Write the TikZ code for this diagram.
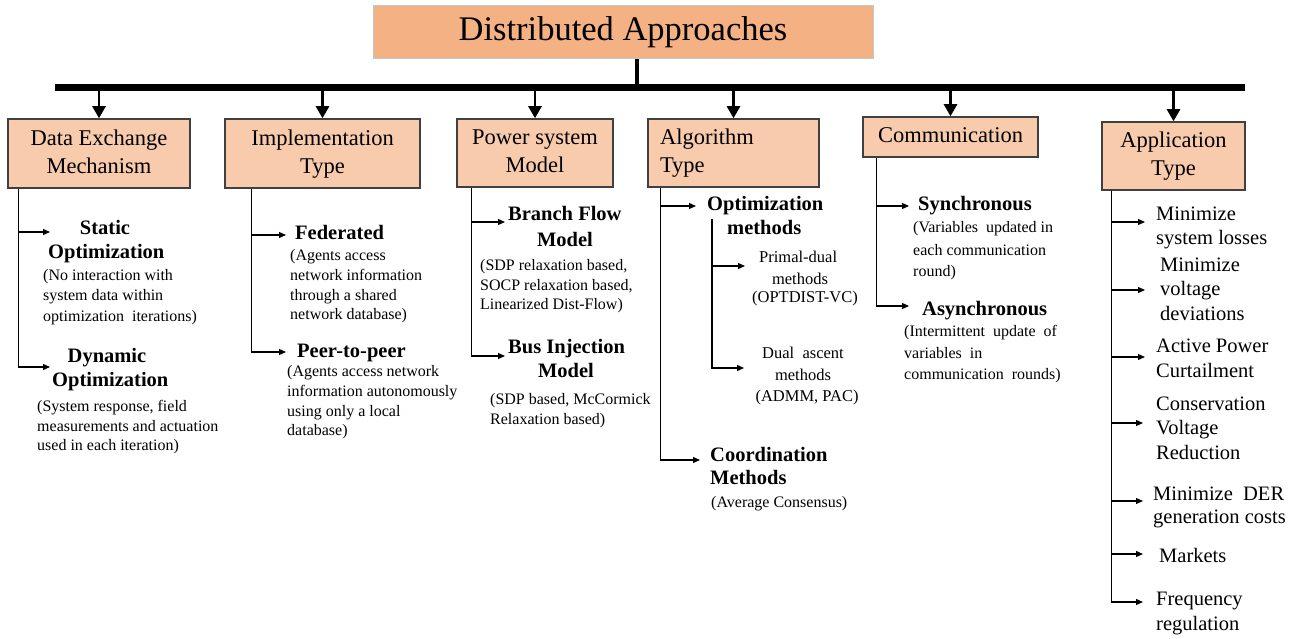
\documentclass[tikz,border=0pt]{standalone}
\usepackage{fontspec}
\setmainfont{Liberation Serif}
\usetikzlibrary{arrows.meta}
\definecolor{titlefill}{HTML}{F4B183}
\definecolor{boxfill}{HTML}{F8CBAD}
\definecolor{boxline}{HTML}{404040}
\tikzset{
  cat/.style={draw=boxline, fill=boxfill, line width=1.5pt, inner sep=0pt, align=center,
    font=\fontsize{22.5}{28}\selectfont},
  hd/.style={anchor=west, inner sep=0pt, text height=14pt, text depth=4pt,
    font=\fontsize{20.5}{24}\selectfont\bfseries},
  it/.style={hd, font=\fontsize{20.5}{24}\selectfont},
  ds/.style={anchor=west, inner sep=0pt, text height=11pt, text depth=3pt,
    font=\fontsize{16}{20}\selectfont},
  sm/.style={ds, font=\fontsize{16.5}{20}\selectfont},
  down/.style={-{Triangle[width=13pt,length=12pt]}, line width=2.5pt},
  sub/.style={-{Triangle[width=6pt,length=7pt]}, line width=1.2pt},
}
\begin{document}
\begin{tikzpicture}[x=1pt, y=-1pt]
\useasboundingbox (0,0) rectangle (1298,639);
\node[draw=gray!45, fill=titlefill, line width=1pt, minimum width=500pt, minimum height=53pt, inner sep=0pt,
  font=\fontsize{34.5}{38}\selectfont] (title) at (623,32.5) {Distributed Approaches};
\coordinate (barL) at (55,88); \coordinate (barR) at (1245,88);
\coordinate (stem) at ([xshift=14pt]title.south);

\node[cat, minimum width=182pt, minimum height=69pt] (dem) at (99,153.5) {Data Exchange\strut\\Mechanism\strut};
\node[cat, minimum width=195pt, minimum height=69pt] (imp) at (322.5,153.5) {Implementation\strut\\Type\strut};
\node[cat, minimum width=156pt, minimum height=68pt] (psm) at (535,153) {Power system\strut\\Model\strut};
\node[cat, minimum width=171pt, minimum height=68pt, align=left, text width=147pt] (alg) at (733.5,153) {Algorithm\strut\\Type\strut};
\node[cat, minimum width=175pt, minimum height=40pt] (com) at (950.5,137) {Communication\strut};
\node[cat, minimum width=143pt, minimum height=68pt] (app) at (1173.5,156) {Application\strut\\Type\strut};

\draw[line width=4pt] (stem) -- (stem |- barL);
\draw[down] (dem.north |- barL) -- (dem.north);
\draw[down] (imp.north |- barL) -- (imp.north);
\draw[down] (psm.north |- barL) -- (psm.north);
\draw[down] (alg.north |- barL) -- (alg.north);
\draw[down] (com.north |- barL) -- (com.north);
\draw[down] (app.north |- barL) -- (app.north);
\draw[line width=7pt] (barL) -- (barR);

\node[hd, anchor=center] (dem1a) at (105,229) {Static};
\node[hd] (dem1b) at (48,253) {Optimization};
\node[ds] (dem1c) at (43,276) {(No interaction with};
\node[ds] (dem1d) at (43,296) {system data within};
\node[ds] (dem1e) at (43,317) {optimization\ \ iterations)};
\node[hd, anchor=center] (dem2a) at (107,357) {Dynamic};
\node[hd] (dem2b) at (52,381) {Optimization};
\node[ds] (dem2c) at (37,407) {(System response, field};
\node[ds] (dem2d) at (37,427) {measurements and actuation};
\node[ds] (dem2e) at (37,446) {used in each iteration)};
\draw[sub, shorten >=-2pt] ([xshift=11pt]dem.south west) |- ([yshift=21pt]dem1b.west);
\draw[sub, shorten >=2pt] ([xshift=11pt]dem.south west) |- ([yshift=14pt]dem2b.west);

\node[hd] (imp1a) at (295,235) {Federated};
\node[ds] (imp1b) at (290,256) {(Agents access};
\node[ds] (imp1c) at (290,276) {network information};
\node[ds] (imp1d) at (290,296) {through a shared};
\node[ds] (imp1e) at (290,315) {network database)};
\node[hd] (imp2a) at (297,352) {Peer-to-peer};
\node[ds] (imp2b) at (287,372) {(Agents access network};
\node[ds] (imp2c) at (287,392) {information autonomously};
\node[ds] (imp2d) at (287,412) {using only a local};
\node[ds] (imp2e) at (287,431) {database)};
\draw[sub, shorten >=9pt] ([xshift=27pt]imp.south west) |- (imp1a.west);
\draw[sub, shorten >=11pt] ([xshift=27pt]imp.south west) |- (imp2a.west);

\node[hd] (psm1a) at (508,216) {Branch Flow};
\node[hd, anchor=center] (psm1b) at (565,241) {Model};
\node[ds] (psm1c) at (480,266) {(SDP relaxation based,};
\node[ds] (psm1d) at (480,286) {SOCP relaxation based,};
\node[ds] (psm1e) at (480,305) {Linearized Dist-Flow)};
\node[hd] (psm2a) at (508,348) {Bus Injection};
\node[hd, anchor=center] (psm2b) at (566,372) {Model};
\node[ds] (psm2c) at (490,400) {(SDP based, McCormick};
\node[ds] (psm2d) at (490,420) {Relaxation based)};
\draw[sub, shorten >=3pt] ([xshift=15pt]psm.south west) |- ([yshift=-6pt]psm1a.west);
\draw[sub, shorten >=3pt] ([xshift=15pt]psm.south west) |- ([yshift=-8pt]psm2a.west);

\node[hd] (alg1a) at (707,206) {Optimization};
\node[hd] (alg1b) at (727,229) {methods};
\node[sm] (alg1c) at (759,258) {Primal-dual};
\node[sm, anchor=center] (alg1d) at (800,280) {methods};
\node[sm, anchor=center] (alg1e) at (805,298) {(OPTDIST-VC)};
\node[sm, anchor=center] (alg1f) at (803,354) {Dual\ \ ascent};
\node[sm, anchor=center] (alg1g) at (803,376) {methods};
\node[sm, anchor=center] (alg1h) at (807,397) {(ADMM, PAC)};
\node[hd] (alg2a) at (710,456) {Coordination};
\node[hd] (alg2b) at (710,479) {Methods};
\node[ds] (alg2c) at (711,503) {(Average Consensus)};
\draw[sub, shorten >=11pt] ([xshift=13pt]alg.south west) |- (alg1a.west);
\draw[sub, shorten >=10pt] ([xshift=13pt]alg.south west) |- ([yshift=-4pt]alg2a.west);
\draw[sub, shorten >=14pt] ([xshift=5pt,yshift=-4pt]alg1a.south west) |- ([yshift=-8pt]alg1c.west);
\draw[sub, shorten >=18pt] ([xshift=5pt,yshift=-4pt]alg1a.south west) |- ([yshift=-14pt]alg1f.west);

\node[hd] (com1a) at (918,206) {Synchronous};
\node[ds] (com1b) at (913,229) {(Variables\ \ updated in};
\node[ds] (com1c) at (913,251) {each communication};
\node[ds] (com1d) at (913,272) {round)};
\node[hd] (com2a) at (922,310) {Asynchronous};
\node[ds] (com2b) at (904,332) {(Intermittent\ \ update\ \ of};
\node[ds] (com2c) at (904,354) {variables\ \ in};
\node[ds] (com2d) at (904,375) {communication\ \ rounds)};
\draw[sub, shorten >=9pt] ([xshift=14pt]com.south west) |- (com1a.west);
\draw[sub, shorten >=13pt] ([xshift=14pt]com.south west) |- ([yshift=4pt]com2a.west);

\node[it] (app1a) at (1156,215) {Minimize};
\node[it] (app1b) at (1156,239) {system losses};
\node[it] (app2a) at (1160,266) {Minimize};
\node[it] (app2b) at (1160,290) {voltage};
\node[it] (app2c) at (1160,315) {deviations};
\node[it] (app3a) at (1156,347) {Active Power};
\node[it] (app3b) at (1156,372) {Curtailment};
\node[it] (app4a) at (1156,405) {Conservation};
\node[it] (app4b) at (1156,429) {Voltage};
\node[it] (app4c) at (1156,454) {Reduction};
\node[it] (app5a) at (1153,495) {Minimize\ \ DER};
\node[it] (app5b) at (1153,518) {generation costs};
\node[it] (app6a) at (1159,557) {Markets};
\node[it] (app7a) at (1156,600) {Frequency};
\node[it] (app7b) at (1156,625) {regulation};
\draw[sub, shorten >=11pt] ([xshift=10pt]app.south west) |- ([yshift=-7pt]app1a.west);
\draw[sub, shorten >=15pt] ([xshift=10pt]app.south west) |- (app2b.west);
\draw[sub, shorten >=11pt] ([xshift=10pt]app.south west) |- ([yshift=-10pt]app3a.west);
\draw[sub, shorten >=13pt] ([xshift=10pt]app.south west) |- ([yshift=6pt]app4b.west);
\draw[sub, shorten >=10pt] ([xshift=10pt]app.south west) |- ([yshift=-6pt]app5a.west);
\draw[sub, shorten >=16pt] ([xshift=10pt]app.south west) |- ([yshift=3pt]app6a.west);
\draw[sub, shorten >=13pt] ([xshift=10pt]app.south west) |- ([yshift=-2pt]app7a.west);
\end{tikzpicture}
\end{document}
